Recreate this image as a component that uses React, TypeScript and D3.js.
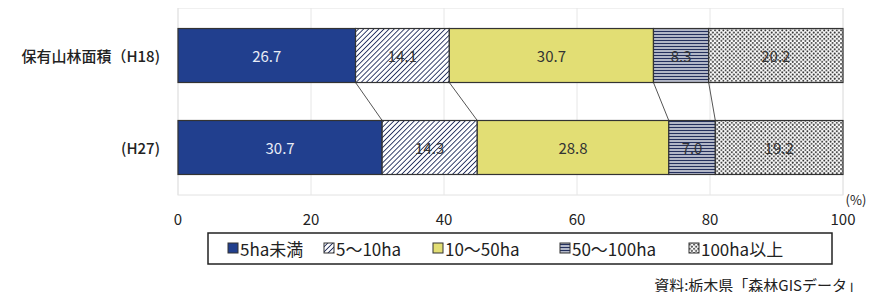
import React from "react";
import * as d3 from "d3";

const categories = ["保有山林面積（H18)", "(H27)"];
const seriesNames = ["5ha未満", "5〜10ha", "10〜50ha", "50〜100ha", "100ha以上"];
const h18Values = [26.7, 14.1, 30.7, 8.3, 20.2];
const h27Values = [30.7, 14.3, 28.8, 7.0, 19.2];
const tickValues = [0, 20, 40, 60, 80, 100];

const rows = [h18Values, h27Values];
const fills = ["#213f8e", "url(#diag)", "#e2de74", "url(#horiz)", "url(#dots)"];
const labelColors = ["#e8ecf6", "#333", "#333", "#333", "#333"];
const font = "'Noto Sans CJK JP', 'Noto Sans', sans-serif";

const App = () => {
  const width = 883;
  const height = 300;
  const margin = { top: 8, right: 40, bottom: 105, left: 178 };

  const x = d3.scaleLinear().domain([0, 100]).range([margin.left, width - margin.right]);
  const y = d3
    .scaleBand()
    .domain(categories)
    .range([margin.top, height - margin.bottom])
    .paddingInner(0.413)
    .paddingOuter(0.223);

  const stacked = rows.map(vals => {
    let acc = 0;
    return vals.map(v => {
      const s = acc;
      acc += v;
      return [s, acc];
    });
  });

  const bw = y.bandwidth();
  const y0 = y(categories[0]);
  const y1 = y(categories[1]);

  const legendX = [228, 324, 433, 560, 689];

  return (
    <svg width={width} height={height} style={{ display: "block", margin: "-8px" }}>
      <defs>
        <pattern id="diag" width="3.6" height="3.6" patternUnits="userSpaceOnUse" patternTransform="rotate(45)">
          <rect width="3.6" height="3.6" fill="#fff" />
          <line x1="0" y1="0" x2="0" y2="3.6" stroke="#24305e" strokeWidth="1.8" />
        </pattern>
        <pattern id="horiz" width="4" height="3" patternUnits="userSpaceOnUse">
          <rect width="4" height="3" fill="#fff" />
          <line x1="0" y1="1.5" x2="4" y2="1.5" stroke="#24305e" strokeWidth="1.7" />
        </pattern>
        <pattern id="dots" width="4.2" height="4.2" patternUnits="userSpaceOnUse">
          <rect width="4.2" height="4.2" fill="#fff" />
          <circle cx="1.05" cy="1.05" r="0.95" fill="#2a2a2a" />
          <circle cx="3.15" cy="3.15" r="0.95" fill="#2a2a2a" />
        </pattern>
      </defs>
      <rect width={width} height={height} fill="#fff" />

      {/* plot frame and grid */}
      <rect x={margin.left} y={margin.top} width={x(100) - x(0)} height={height - margin.bottom - margin.top}
        fill="none" stroke="#e2e2e2" />
      {tickValues.map(t => (
        <line key={t} x1={x(t)} x2={x(t)} y1={margin.top} y2={height - margin.bottom} stroke="#e6e6e6" />
      ))}

      {/* connectors between bars */}
      {stacked[0].slice(0, -1).map((d, i) => (
        <line key={i} x1={x(d[1])} y1={y0 + bw} x2={x(stacked[1][i][1])} y2={y1} stroke="#555" strokeWidth="1" />
      ))}

      {stacked.map((row, r) => (
        <g key={r}>
          {row.map((d, i) => (
            <g key={i}>
              <rect x={x(d[0])} y={y(categories[r])} width={x(d[1]) - x(d[0])} height={bw}
                fill={fills[i]} stroke="#333" strokeWidth="1.2" />
              <text x={(x(d[0]) + x(d[1])) / 2} y={y(categories[r]) + bw / 2} textAnchor="middle"
                dominantBaseline="central" fontSize="15" fontFamily={font} fill={labelColors[i]}>
                {rows[r][i].toFixed(1)}
              </text>
            </g>
          ))}
          <text x={160} y={y(categories[r]) + bw / 2} textAnchor="end" dominantBaseline="central"
            fontSize="15" fontWeight="500" fontFamily={font} fill="#222">
            {categories[r]}
          </text>
        </g>
      ))}

      {/* axis ticks */}
      {tickValues.map(t => (
        <text key={t} x={x(t)} y={218} textAnchor="middle" dominantBaseline="central"
          fontSize="15" fontFamily={font} fill="#222">{t}</text>
      ))}
      <text x={856} y={199} textAnchor="middle" dominantBaseline="central" fontSize="13" fontFamily={font} fill="#222">(%)</text>

      {/* legend */}
      <rect x={208} y={233} width={624} height={31} fill="#fff" stroke="#222" strokeWidth="1.5" />
      {seriesNames.map((s, i) => (
        <g key={s}>
          <rect x={legendX[i]} y={243} width={10} height={10} fill={fills[i]} stroke="#333" strokeWidth="1" />
          <text x={legendX[i] + 12} y={248.5} dominantBaseline="central" fontSize="17" fontFamily={font} fill="#222">{s}</text>
        </g>
      ))}

      <text x={862} y={284} textAnchor="end" dominantBaseline="central" fontSize="15" fontFamily={font} fill="#222">
        資料:栃木県「森林GISデータ」
      </text>
    </svg>
  );
};

export default App;
